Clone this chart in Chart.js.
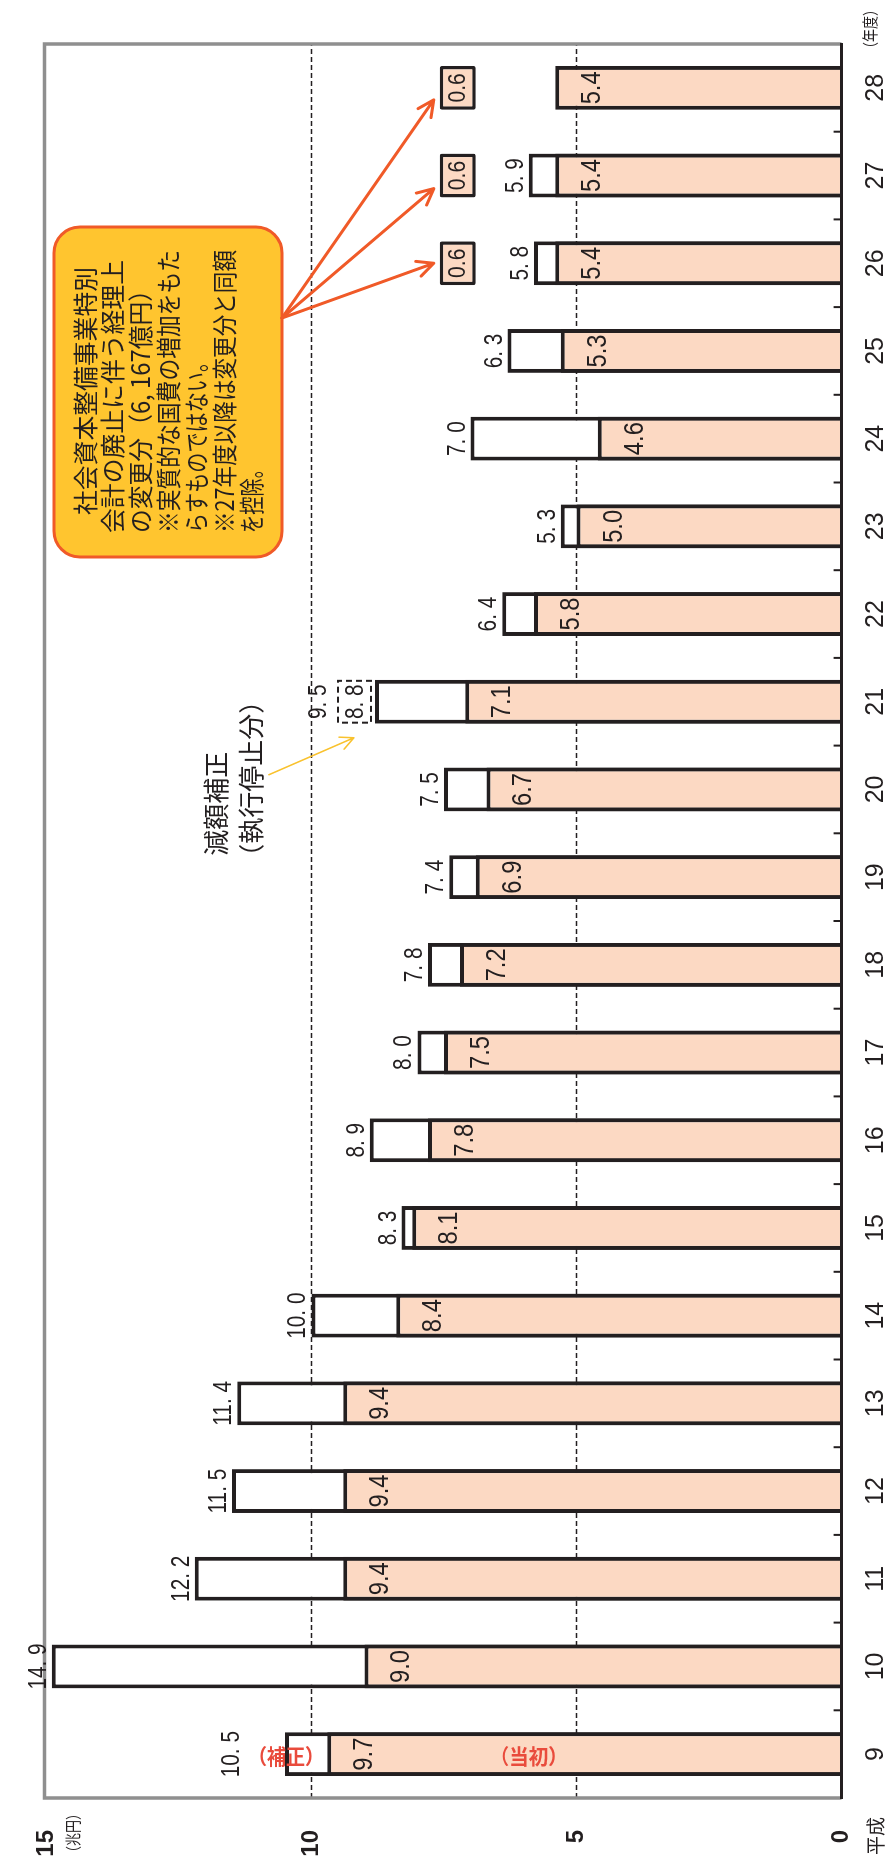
<!DOCTYPE html>
<html lang="ja">
<head>
<meta charset="UTF-8">
<title>公共事業関係費の推移</title>
<style>
    html, body { margin: 0; padding: 0; overflow: hidden; background: #fff; }
    #wrap {
        position: absolute; left: 0; top: 0;
        width: 1868px; height: 888px;
        transform-origin: 0 0;
        transform: translateY(1868px) rotate(-90deg);
    }
</style>
</head>
<body>
<div id="wrap"><canvas id="chart" width="1868" height="888"></canvas></div>
<script src="https://cdn.jsdelivr.net/npm/chart.js"></script>
<script>
// fiscal years (Heisei)
const years = ['9','10','11','12','13','14','15','16','17','18','19','20','21','22','23','24','25','26','27','28'];
// initial budget (当初), trillion yen
const initialBudget = [9.7, 9.0, 9.4, 9.4, 9.4, 8.4, 8.1, 7.8, 7.5, 7.2, 6.9, 6.7, 7.1, 5.8, 5.0, 4.6, 5.3, 5.4, 5.4, 5.4];
// initial + supplementary (補正)
const totalBudget = [10.5, 14.9, 12.2, 11.5, 11.4, 10.0, 8.3, 8.9, 8.0, 7.8, 7.4, 7.5, 8.8, 6.4, 5.3, 7.0, 6.3, 5.8, 5.9, null];
// total before the reduction (減額補正) in H21
const beforeCut = [null, null, null, null, null, null, null, null, null, null, null, null, 9.5, null, null, null, null, null, null, null];
// accounting change (社会資本整備事業特別会計の廃止)
const transferAdj = [null, null, null, null, null, null, null, null, null, null, null, null, null, null, null, null, null, 0.6, 0.6, 0.6];
const valueTicks = [0, 5, 10, 15];

const noteLines = [
    '社会資本整備事業特別',
    '会計の廃止に伴う経理上',
    'の変更分（6, 167億円）',
    '※実質的な国費の増加をもた',
    'らすものではない。',
    '※27年度以降は変更分と同額',
    'を控除。'
];
const noteWidths = [248, 273, 255, 283, 181, 283, 73];

const PEACH = '#fcd9c3';
const INK = '#231f20';
const RED = '#e94b3c';
const ORANGE = '#f05a28';
const ADJ_BASE = 6.9, ADJ_PAD = 0.08;
const AREA = { left: 70, top: 40, right: 1824, bottom: 842 };

function label(ctx, s, x, y, o) {
    ctx.save();
    ctx.translate(x, y);
    if (o.rot) ctx.rotate(o.rot);
    const sx = o.sx || 1;
    ctx.scale(sx, 1);
    ctx.font = o.font;
    ctx.fillStyle = o.color || INK;
    ctx.textAlign = o.align || 'center';
    ctx.textBaseline = o.base || 'alphabetic';
    if (o.maxW) ctx.fillText(s, 0, 0, o.maxW / sx);
    else ctx.fillText(s, 0, 0);
    ctx.restore();
}

function arrow(ctx, x0, y0, x1, y1, color, w, head) {
    const ang = Math.atan2(y1 - y0, x1 - x0);
    ctx.save();
    ctx.strokeStyle = color;
    ctx.lineWidth = w;
    ctx.lineCap = 'round';
    ctx.lineJoin = 'round';
    ctx.beginPath();
    ctx.moveTo(x0, y0);
    ctx.lineTo(x1, y1);
    ctx.moveTo(x1 - head * Math.cos(ang - 0.45), y1 - head * Math.sin(ang - 0.45));
    ctx.lineTo(x1, y1);
    ctx.lineTo(x1 - head * Math.cos(ang + 0.45), y1 - head * Math.sin(ang + 0.45));
    ctx.stroke();
    ctx.restore();
}

const fmtTotal = v => v.toFixed(1).replace('.', '. ');

const overlay = {
    id: 'overlay',
    beforeDatasetsDraw(chart) {
        const { ctx, chartArea: a, scales: { y } } = chart;
        ctx.save();
        ctx.strokeStyle = INK;
        ctx.lineWidth = 1.6;
        ctx.setLineDash([5, 3]);
        valueTicks.filter(v => v > 0 && v < 15).forEach(v => {
            const py = y.getPixelForValue(v);
            ctx.beginPath();
            ctx.moveTo(a.left, py);
            ctx.lineTo(a.right, py);
            ctx.stroke();
        });
        ctx.restore();
    },
    afterDatasetsDraw(chart) {
        const { ctx, chartArea: a, scales: { x, y } } = chart;
        const bars = chart.getDatasetMeta(0).data;

        // frame
        ctx.save();
        ctx.strokeStyle = '#8f8f8f';
        ctx.lineWidth = 3.5;
        ctx.beginPath();
        ctx.moveTo(a.left, a.bottom);
        ctx.lineTo(a.left, a.top - 2);
        ctx.lineTo(a.right, a.top - 2);
        ctx.lineTo(a.right, a.bottom);
        ctx.stroke();
        ctx.strokeStyle = INK;
        ctx.lineWidth = 3;
        ctx.beginPath();
        ctx.moveTo(a.left - 1, a.bottom);
        ctx.lineTo(a.right + 1, a.bottom);
        ctx.stroke();
        ctx.lineWidth = 2;
        for (let i = 1; i < years.length; i++) {
            const px = (x.getPixelForValue(i - 1) + x.getPixelForValue(i)) / 2;
            ctx.beginPath();
            ctx.moveTo(px, a.bottom);
            ctx.lineTo(px, a.bottom - 8);
            ctx.stroke();
        }
        ctx.restore();

        // value labels
        const totFont = '26px "Liberation Sans", Arial, sans-serif';
        years.forEach((yr, i) => {
            const cx = x.getPixelForValue(i);
            label(ctx, initialBudget[i].toFixed(1), cx, y.getPixelForValue(initialBudget[i]) + 45,
                { font: '27px "Liberation Sans", Arial, sans-serif', sx: 0.88 });
            if (beforeCut[i] != null) {
                label(ctx, fmtTotal(beforeCut[i]), cx, y.getPixelForValue(beforeCut[i]) - 12, { font: totFont, sx: 0.8 });
            } else if (totalBudget[i] != null) {
                // the first bar carries the (補正) marker, so its label sits higher
                const gap = i === 0 ? 46 : 6;
                label(ctx, fmtTotal(totalBudget[i]), cx, y.getPixelForValue(totalBudget[i]) - gap, { font: totFont, sx: 0.8 });
            }
            if (transferAdj[i] != null) {
                const top = y.getPixelForValue(ADJ_BASE + transferAdj[i] + ADJ_PAD);
                const bot = y.getPixelForValue(ADJ_BASE);
                label(ctx, transferAdj[i].toFixed(1), cx, (top + bot) / 2 + 1,
                    { font: '24px "Liberation Sans", Arial, sans-serif', sx: 0.88, base: 'middle' });
            }
        });

        // dashed box for the reduced part (H21)
        beforeCut.forEach((v, i) => {
            if (v == null) return;
            const cx = x.getPixelForValue(i);
            const w = bars[i].width - 2;
            const top = y.getPixelForValue(v);
            const bot = y.getPixelForValue(totalBudget[i]) - 4;
            ctx.save();
            ctx.strokeStyle = INK;
            ctx.lineWidth = 2;
            ctx.setLineDash([6, 4]);
            ctx.strokeRect(cx - w / 2, top, w, bot - top);
            ctx.restore();
            label(ctx, fmtTotal(totalBudget[i]), cx, (top + bot) / 2 + 1, { font: totFont, sx: 0.8, base: 'middle' });

            // 減額補正 note with thin yellow arrow
            const tipX = cx - 36, tipY = y.getPixelForValue(9.2);
            arrow(ctx, tipX - 37, tipY - 85, tipX, tipY, '#f9c22e', 1.5, 15);
            const jp = '26px "Noto Sans CJK JP", sans-serif';
            label(ctx, '減額補正', cx - 102, 216, { font: jp, base: 'middle' });
            label(ctx, '（執行停止分）', cx - 77, 251, { font: jp, base: 'middle', maxW: 194 });
        });

        // (補正) / (当初) markers on the first bar, upright on the page
        const c0 = x.getPixelForValue(0);
        const redFont = 'bold 21px "Noto Sans CJK JP", sans-serif';
        label(ctx, '（補正）', c0 - 2, y.getPixelForValue(totalBudget[0]) + 1,
            { font: redFont, color: RED, base: 'middle', rot: Math.PI / 2, maxW: 76 });
        label(ctx, '（当初）', c0 - 2, y.getPixelForValue(5.9),
            { font: redFont, color: RED, base: 'middle', rot: Math.PI / 2, maxW: 78 });

        // callout
        const bx = 1311, by = 54, bw = 330, bh = 228;
        ctx.save();
        ctx.fillStyle = '#ffc52f';
        ctx.strokeStyle = ORANGE;
        ctx.lineWidth = 3;
        ctx.beginPath();
        ctx.roundRect(bx, by, bw, bh, 26);
        ctx.fill();
        ctx.stroke();
        ctx.restore();
        noteLines.forEach((s, k) => {
            label(ctx, s, k === 0 ? 1353 : 1335, 85 + k * 27.8,
                { font: '25px "Noto Sans CJK JP", sans-serif', align: 'left', base: 'middle', maxW: noteWidths[k] });
        });
        const tipOffset = [0, -13, -12];
        let n = 0;
        transferAdj.forEach((v, i) => {
            if (v == null) return;
            const tx = x.getPixelForValue(i) + tipOffset[n++];
            const ty = y.getPixelForValue(ADJ_BASE + v + ADJ_PAD) - 6;
            arrow(ctx, 1550, bh + by, tx, ty, ORANGE, 3, 18);
        });

        // unit labels
        const small = '16px "Noto Sans CJK JP", sans-serif';
        label(ctx, '（兆円）', 35, 73, { font: small, base: 'middle', maxW: 52 });
        label(ctx, '平成', 32, 876, { font: '19px "Noto Sans CJK JP", sans-serif', base: 'middle' });
        label(ctx, '（年度）', 1839, 870, { font: small, base: 'middle', maxW: 52 });
    }
};

const barStyle = {
    borderColor: INK,
    borderWidth: 4,
    grouped: false,
    barPercentage: 0.5,
    categoryPercentage: 1
};

const chart = new Chart(document.getElementById('chart'), {
    type: 'bar',
    data: {
        labels: years,
        datasets: [
            Object.assign({ label: '当初', data: initialBudget, backgroundColor: PEACH }, barStyle),
            Object.assign({ label: '補正', data: totalBudget, backgroundColor: '#ffffff' }, barStyle),
            Object.assign({
                label: '経理上の変更分',
                data: transferAdj.map(v => v == null ? null : [ADJ_BASE, ADJ_BASE + v + ADJ_PAD]),
                backgroundColor: PEACH
            }, barStyle, { borderWidth: 3.5, borderSkipped: false, borderRadius: 2 })
        ]
    },
    options: {
        responsive: false,
        animation: false,
        layout: { padding: { top: AREA.top, right: 1868 - AREA.right, left: 0, bottom: 0 } },
        plugins: { legend: { display: false }, tooltip: { enabled: false } },
        scales: {
            x: {
                grid: { display: false, drawTicks: false },
                border: { display: false },
                ticks: {
                    color: INK,
                    font: { family: '"Liberation Sans", Arial, sans-serif', size: 25 },
                    padding: 20,
                    maxRotation: 0,
                    autoSkip: false
                },
                afterFit: s => { s.height = 888 - AREA.bottom; }
            },
            y: {
                min: 0,
                max: 15,
                grid: { display: false, drawTicks: false },
                border: { display: false },
                afterBuildTicks: s => { s.ticks = valueTicks.map(v => ({ value: v })); },
                ticks: {
                    color: INK,
                    font: { family: '"Liberation Sans", Arial, sans-serif', size: 24, weight: 'bold' },
                    padding: 32
                },
                afterFit: s => { s.width = AREA.left; }
            }
        }
    },
    plugins: [overlay]
});

// nudge the layout padding so the plot area lands where the reference has it
const ca = chart.chartArea;
const pad = chart.options.layout.padding;
pad.top += AREA.top - ca.top;
pad.right += ca.right - AREA.right;
pad.bottom += ca.bottom - AREA.bottom;
pad.left += AREA.left - ca.left;
chart.update();
</script>
</body>
</html>
